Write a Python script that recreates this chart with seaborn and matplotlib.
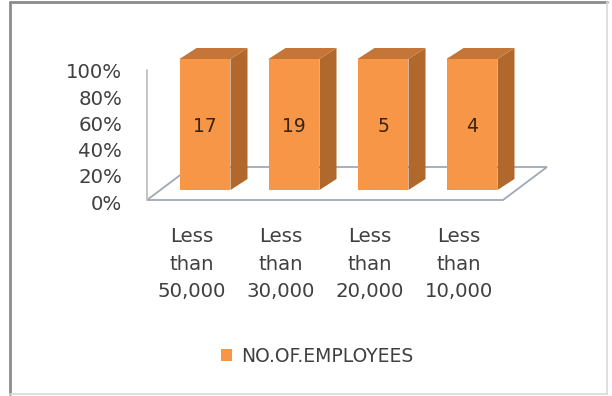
import matplotlib
matplotlib.use("Agg")
import matplotlib.pyplot as plt
import matplotlib.transforms as mtransforms
from matplotlib.patches import Polygon, Rectangle
from matplotlib.lines import Line2D
import pandas as pd
import seaborn as sns

# Salary bands and head counts per band
bands = ["Less\nthan\n50,000", "Less\nthan\n30,000", "Less\nthan\n20,000", "Less\nthan\n10,000"]
employees = [17, 19, 5, 4]
series_name = "NO.OF.EMPLOYEES"
y_ticks = [0.0, 0.2, 0.4, 0.6, 0.8, 1.0]
y_tick_labels = ["0%", "20%", "40%", "60%", "80%", "100%"]

# 100% stacked: each band's share of its own column total (single series)
totals = [sum([v]) for v in employees]
share = [v / t for v, t in zip(employees, totals)]

df = pd.DataFrame({"band": bands, "share": share, "count": employees,
                   "series": [series_name] * len(bands)})

sns.set_theme(style="white")
plt.rcParams["font.family"] = ["DejaVu Sans"]

FRONT = "#F79646"
SIDE = "#B0682C"
TOP = "#C47537"
FLOOR = "#9FA9B5"
TEXT = "#404040"

W, H, DPI = 612, 396, 100
fig = plt.figure(figsize=(W / DPI, H / DPI), dpi=DPI)
fig.patch.set_facecolor("white")

# plot area in pixels (front face of the bars)
px_left, px_right = 160.5, 516.5
px_top, px_bottom = 59, 190
ax = fig.add_axes([px_left / W, (H - px_bottom) / H,
                   (px_right - px_left) / W, (px_bottom - px_top) / H])
ax.set_facecolor("none")

sns.barplot(data=df, x="band", y="share", hue="series", palette=[FRONT],
            width=0.573, dodge=False, saturation=1, edgecolor="none",
            linewidth=0, ax=ax, zorder=3)

ax.set_xlim(-0.5, len(bands) - 0.5)
ax.set_ylim(0, 1)
for s in ax.spines.values():
    s.set_visible(False)
ax.set_xlabel("")
ax.set_ylabel("")

# pixel -> data scale factors
sx = (len(bands)) / (px_right - px_left)
sy = 1.0 / (px_bottom - px_top)
dx, dy = 17 * sx, 11 * sy

# floor and side wall outline
fl_front = -10 * sy
fl_back = 23 * sy
x0f = -0.5 - 13.5 * sx
x1f = len(bands) - 0.5 - 13.5 * sx
depth_x = 44 * sx
floor = Polygon([(x0f, fl_front), (x1f, fl_front), (x1f + depth_x, fl_back),
                 (x0f + depth_x, fl_back)], closed=True, facecolor="white",
                edgecolor=FLOOR, linewidth=1.3, zorder=1, clip_on=False)
ax.add_patch(floor)
ax.add_line(Line2D([x0f, x0f], [fl_front, 120 * sy], color="#BFBFBF",
                   linewidth=1.3, zorder=1, clip_on=False))

# 3-D side and top faces of each column
for bar in ax.patches:
    if not isinstance(bar, Rectangle) or bar is floor:
        continue
    x, w, h = bar.get_x(), bar.get_width(), bar.get_height()
    if w <= 0 or h <= 0:
        continue
    side = Polygon([(x + w, 0), (x + w + dx, dy), (x + w + dx, h + dy), (x + w, h)],
                   closed=True, facecolor=SIDE, edgecolor="none", zorder=2, clip_on=False)
    top = Polygon([(x, h), (x + w, h), (x + w + dx, h + dy), (x + dx, h + dy)],
                  closed=True, facecolor=TOP, edgecolor="none", zorder=2, clip_on=False)
    ax.add_patch(side)
    ax.add_patch(top)
    bar.set_clip_on(False)

# value labels on the front faces
for i, (v, s) in enumerate(zip(employees, share)):
    ax.text(i, s / 2 - 2 * sy, str(v), ha="center", va="center",
            fontsize=13.5, color="#3A2410", zorder=5)

# y axis ticks, set on the floor's front edge
ax.set_yticks(y_ticks)
ax.set_yticklabels(y_tick_labels)
ax.tick_params(axis="y", length=0, pad=27.5, labelsize=14.2, labelcolor=TEXT)
shift_y = mtransforms.ScaledTranslation(0, -12 / DPI, fig.dpi_scale_trans)
for lab in ax.get_yticklabels():
    lab.set_transform(lab.get_transform() + shift_y)

ax.tick_params(axis="x", length=0, pad=27, labelsize=14.2, labelcolor=TEXT)
shift_x = mtransforms.ScaledTranslation(-13.5 / DPI, 0, fig.dpi_scale_trans)
for lab in ax.get_xticklabels():
    lab.set_transform(lab.get_transform() + shift_x)
    lab.set_linespacing(1.55)

# legend below the plot
leg = ax.legend(loc="center", bbox_to_anchor=(317 / W, (H - 356) / H),
                bbox_transform=fig.transFigure, frameon=False, fontsize=13.5,
                handlelength=0.57, handleheight=0.57, handletextpad=0.5,
                borderpad=0)
for t in leg.get_texts():
    t.set_color(TEXT)

# chart border
fig.add_artist(Line2D([10 / W, 10 / W], [2 / H, 1 - 2 / H], color="#8C8C8C",
                      linewidth=2, transform=fig.transFigure))
fig.add_artist(Line2D([10 / W, 607 / W], [1 - 2 / H, 1 - 2 / H], color="#8C8C8C",
                      linewidth=2, transform=fig.transFigure))
fig.add_artist(Line2D([607 / W, 607 / W], [2 / H, 1 - 2 / H], color="#D9D9D9",
                      linewidth=1.2, transform=fig.transFigure))
fig.add_artist(Line2D([10 / W, 607 / W], [2 / H, 2 / H], color="#D9D9D9",
                      linewidth=1.2, transform=fig.transFigure))

fig.savefig("out.png", dpi=DPI, facecolor="white")
